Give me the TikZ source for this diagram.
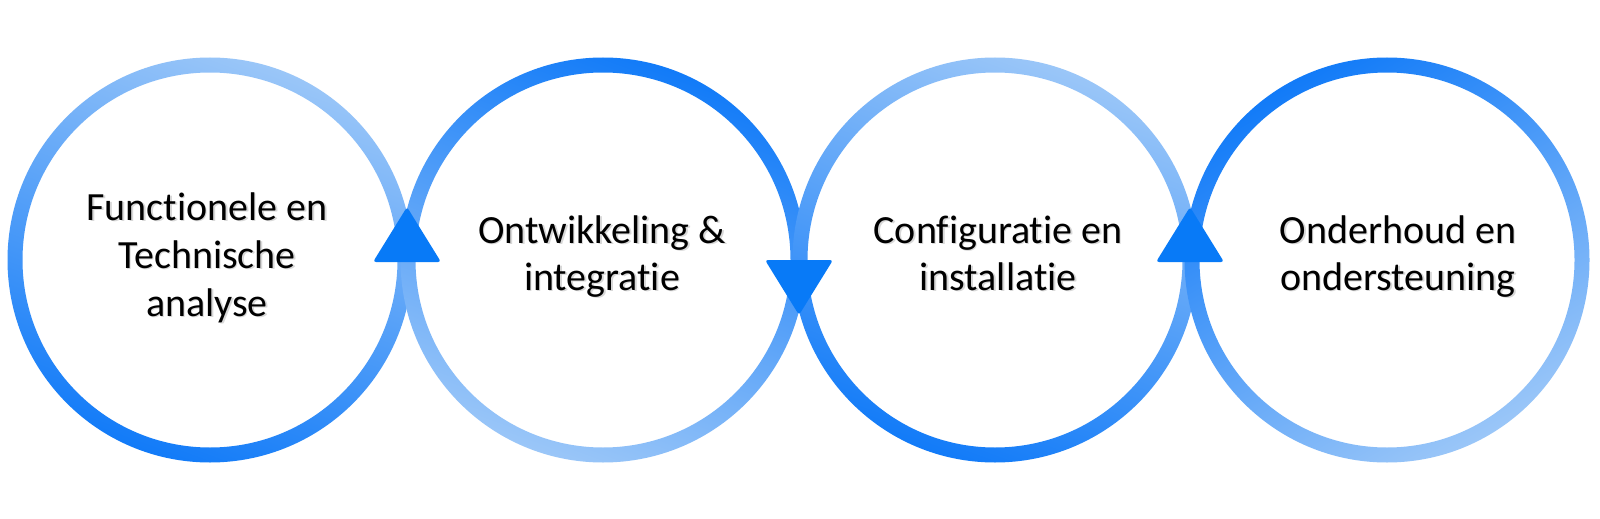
\documentclass[tikz,border=0pt]{standalone}
\usepackage{fontspec}
\setmainfont{Carlito}[Ligatures={NoCommon}]
\definecolor{ringlight}{RGB}{154,198,248}
\definecolor{ringdark}{RGB}{18,123,248}
\definecolor{tricol}{RGB}{8,122,247}
\newcommand\myring[4]{%
  \shade[even odd rule, top color=#2, bottom color=#3, shading angle=#4]
    (#1) circle[radius=101.25pt] (#1) circle[radius=93.75pt];}
\newcommand\mylbl[4]{%
  \node[lbl, text=black!30, opacity=0.5] at ([xshift=0.8pt,yshift=-0.8pt]#2,#3) {#4};
  \node[lbl] (#1) at (#2,#3) {#4};}
\begin{document}
\begin{tikzpicture}[x=0.5pt,y=-0.5pt,
  lbl/.style={anchor=base, inner sep=0pt, font=\fontsize{20pt}{24pt}\selectfont},
  tri/.style={fill=tricol, rounded corners=1.5pt}]
\path[fill=white] (0,0) rectangle (1600,519);
\useasboundingbox (0,0) rectangle (1600,519);
\coordinate (c1) at (210,260);
\coordinate (c2) at (603,260);
\coordinate (c3) at (995,260);
\coordinate (c4) at (1387,260);
\myring{c1}{ringlight}{ringdark}{-20}
\myring{c2}{ringdark}{ringlight}{-20}
\myring{c3}{ringlight}{ringdark}{-20}
\myring{c4}{ringdark}{ringlight}{30}
% triangles
\fill[tri] (407,207) -- (441,262) -- (373,262) -- cycle;
\fill[tri] (799,315) -- (765,260) -- (833,260) -- cycle;
\fill[tri] (1190,207) -- (1224,262) -- (1156,262) -- cycle;
% labels
\mylbl{t1a}{207}{220}{Functionele en}
\mylbl{t1b}{207}{268}{Technische}
\mylbl{t1c}{207}{316}{analyse}
\mylbl{t2a}{602}{243}{Ontwikkeling \&}
\mylbl{t2b}{602}{290}{integratie}
\mylbl{t3a}{998}{243}{Configuratie en}
\mylbl{t3b}{998}{290}{installatie}
\mylbl{t4a}{1398}{243}{Onderhoud en}
\mylbl{t4b}{1398}{290}{ondersteuning}
\end{tikzpicture}
\end{document}
